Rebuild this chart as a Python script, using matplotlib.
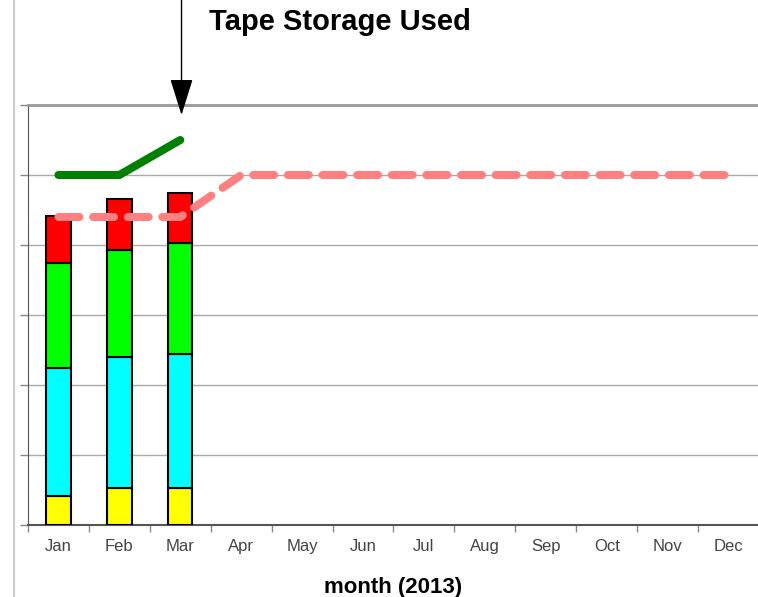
import matplotlib
matplotlib.use("Agg")
import matplotlib.pyplot as plt
import numpy as np
from matplotlib.lines import Line2D

plt.rcParams["font.family"] = ["Liberation Sans", "DejaVu Sans"]

months = ["Jan", "Feb", "Mar", "Apr", "May", "Jun",
          "Jul", "Aug", "Sep", "Oct", "Nov", "Dec"]

# stacked storage used (arbitrary units, gridline step = 100)
yellow_vals = [41, 53, 53]
cyan_vals = [183, 187, 191]
green_vals = [150, 153, 159]
red_vals = [67, 73, 71]

# total capacity line (green) and planned capacity (pink dashed)
capacity = [500, 500, 550]
planned = [440, 440, 440, 500, 500, 500, 500, 500, 500, 500, 500, 500]

fig = plt.figure(figsize=(7.58, 5.97), dpi=100)
ax = fig.add_axes([28 / 758, 1 - 525 / 597, 731 / 758, 420 / 597])

x_all = np.arange(len(months))
x_bar = np.arange(len(yellow_vals))

bottom = np.zeros(len(x_bar))
for vals, color in [(yellow_vals, "#FFFF00"), (cyan_vals, "#00FFFF"),
                    (green_vals, "#00FF00"), (red_vals, "#FF0000")]:
    ax.bar(x_bar, vals, bottom=bottom, width=0.4, color=color,
           edgecolor="black", linewidth=1.5, zorder=3)
    bottom += np.array(vals)

ax.plot(x_all, planned, color="#FF8080", linewidth=5.8, linestyle=(0, (2.6, 1.7)),
        dash_capstyle="round", solid_capstyle="round", zorder=4)
ax.plot(np.arange(len(capacity)), capacity, color="#008000", linewidth=5.8,
        solid_capstyle="round", zorder=5)

ax.set_xlim(-0.5, 11.5)
ax.set_ylim(0, 600)
ax.set_yticks(np.arange(0, 601, 100))
ax.set_yticklabels([])
ax.set_xticks(x_all)
ax.set_xticklabels(months, fontsize=12, color="#444444")
ax.set_xticks(np.arange(-0.5, 12, 1), minor=True)
ax.tick_params(axis="x", which="major", length=0, pad=10)
ax.tick_params(axis="x", which="minor", length=5, color="#888888", width=1)
ax.tick_params(axis="y", length=6, color="#888888", width=1)
ax.grid(axis="y", color="#aaaaaa", linewidth=1, zorder=0)

ax.spines["right"].set_visible(False)
ax.spines["top"].set_color("#999999")
ax.spines["top"].set_linewidth(2)
ax.spines["left"].set_color("#555555")
ax.spines["bottom"].set_color("#555555")
ax.spines["bottom"].set_linewidth(1.5)

ax.set_xlabel("month (2013)", fontsize=16, fontweight="bold", labelpad=17)

fig.text(340 / 758, 1 - 22 / 597, "Tape Storage Used", fontsize=21, fontweight="bold",
         ha="center", va="center")

# arrow pointing at the current month
ax.annotate("", xy=(2.02, 1 - 115 / 597), xycoords=("data", "figure fraction"),
            xytext=(2.02, 1.0), textcoords=("data", "figure fraction"),
            arrowprops=dict(arrowstyle="-|>,head_length=2.3,head_width=0.72",
                            color="black", linewidth=1, shrinkA=0, shrinkB=0),
            annotation_clip=False)

# left frame line
fig.add_artist(Line2D([14 / 758, 14 / 758], [0, 1], color="#cccccc", linewidth=1.5))

fig.savefig("out.png", dpi=100)
